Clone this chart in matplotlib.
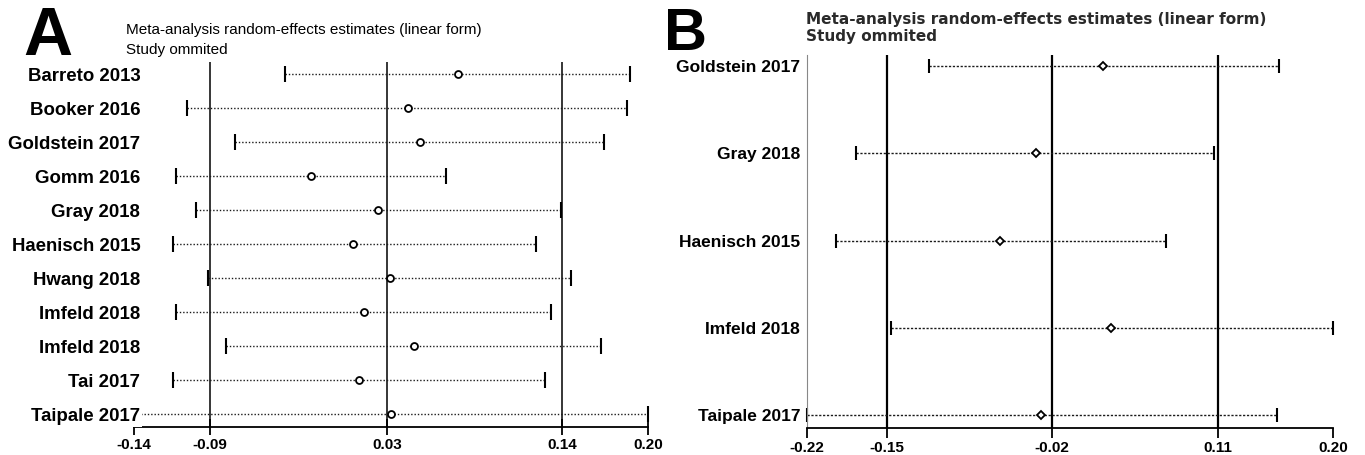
import numpy as np
import matplotlib
matplotlib.use('Agg')
import matplotlib.pyplot as plt

plt.rcParams['font.family'] = ['Liberation Sans', 'DejaVu Sans']

# panel A - leave-one-out estimates
studies_a = ['Barreto 2013', 'Booker 2016', 'Goldstein 2017', 'Gomm 2016', 'Gray 2018',
             'Haenisch 2015', 'Hwang 2018', 'Imfeld 2018', 'Imfeld 2018', 'Tai 2017', 'Taipale 2017']
est_a = [0.074, 0.041, 0.049, -0.023, 0.021, 0.005, 0.029, 0.012, 0.045, 0.009, 0.030]
lo_a = [-0.040, -0.105, -0.073, -0.112, -0.099, -0.114, -0.091, -0.112, -0.079, -0.114, -0.140]
hi_a = [0.188, 0.186, 0.171, 0.066, 0.142, 0.126, 0.149, 0.136, 0.169, 0.132, 0.200]
ref_a = [-0.0896, 0.0271, 0.1432]
ticks_a = [-0.14, -0.0896, 0.0271, 0.1432, 0.20]
ticklabels_a = ['-0.14', '-0.09', '0.03', '0.14', '0.20']

# panel B
studies_b = ['Goldstein 2017', 'Gray 2018', 'Haenisch 2015', 'Imfeld 2018', 'Taipale 2017']
est_b = [0.0165, -0.0373, -0.0662, 0.0224, -0.0335]
lo_b = [-0.1224, -0.1807, -0.1969, -0.1527, -0.220]
hi_b = [0.1569, 0.1048, 0.0665, 0.200, 0.1548]
ref_b = [-0.1564, -0.0247, 0.1077]
ticks_b = [-0.22, -0.1564, -0.0247, 0.1077, 0.20]
ticklabels_b = ['-0.22', '-0.15', '-0.02', '0.11', '0.20']

title1 = 'Meta-analysis random-effects estimates (linear form)'
title2 = 'Study ommited'

W, H = 1365, 455
fig = plt.figure(figsize=(W / 100, H / 100), dpi=100, facecolor='w')


def px_axes(left, top, right, bottom):
    return fig.add_axes([left / W, (H - bottom) / H, (right - left) / W, (bottom - top) / H])


def draw_panel(ax, studies, est, lo, hi, refs, ticks, ticklabels, ylim,
               marker, ms, ref_lw, dots, cap, lab_size, lab_pad, tick_dir, tick_len):
    y = np.arange(1, len(studies) + 1)
    for r in refs:
        ax.axvline(r, color='black', lw=ref_lw, zorder=1)
    for yi, l, h in zip(y, lo, hi):
        ax.plot([l, h], [yi, yi], color='#1a1a1a', lw=1.0, ls=dots, zorder=1.2)
    ax.plot(lo, y, ls='none', marker='|', ms=cap, mew=1.5, color='black', clip_on=False, zorder=1.3)
    ax.plot(hi, y, ls='none', marker='|', ms=cap, mew=1.5, color='black', clip_on=False, zorder=1.3)
    ax.plot(est, y, ls='none', marker=marker, ms=ms, mfc='white', mec='black', mew=1.3,
            clip_on=False, zorder=4)
    ax.set_axisbelow(False)
    ax.set_xlim(ticks[0], ticks[-1])
    ax.set_ylim(ylim)
    ax.set_yticks(y)
    ax.set_yticklabels(studies, fontweight='bold', fontsize=lab_size)
    ax.tick_params(axis='y', length=0, pad=lab_pad)
    ax.set_xticks(ticks)
    ax.set_xticklabels(ticklabels, fontweight='bold', fontsize=11)
    ax.tick_params(axis='x', direction=tick_dir, length=tick_len, width=1.3, pad=2)
    for s in ['top', 'right']:
        ax.spines[s].set_visible(False)
    ax.spines['bottom'].set_linewidth(1.3)


axA = px_axes(134, 62, 648.3, 427)
draw_panel(axA, studies_a, est_a, lo_a, hi_a, ref_a, ticks_a, ticklabels_a,
           (11.373, 0.647), 'o', 5, 1.1, (0, (1, 1.4)), 11, 13.4, -4.5, 'inout', 12)
axA.spines['left'].set_visible(False)
# last label sits over the start of its CI line, hide what runs under it
axA.get_yticklabels()[-1].set_bbox(dict(facecolor='white', edgecolor='none', pad=1.5))

axB = px_axes(807, 55, 1333.3, 428.3)
draw_panel(axB, studies_b, est_b, lo_b, hi_b, ref_b, ticks_b, ticklabels_b,
           (5.152, 0.874), 'D', 4, 1.6, (0, (1.6, 1.2)), 10, 12.5, 5, 'out', 7)
axB.spines['left'].set_linewidth(0.8)
axB.spines['left'].set_color('#888888')

# panel letters and titles
fig.text(23 / W, (H - 55) / H, 'A', fontsize=49, fontweight='bold', va='baseline')
fig.text(664 / W, (H - 50) / H, 'B', fontsize=43, fontweight='bold', va='baseline')

fig.text(126 / W, (H - 34) / H, title1, fontsize=11, va='baseline')
fig.text(126 / W, (H - 54) / H, title2, fontsize=11, va='baseline')
fig.text(806 / W, (H - 24) / H, title1, fontsize=11, fontweight='bold', color='#2a2a2a',
         va='baseline', family='DejaVu Sans')
fig.text(806 / W, (H - 41) / H, title2, fontsize=11, fontweight='bold', color='#2a2a2a',
         va='baseline', family='DejaVu Sans')

fig.savefig('out.png', dpi=100, facecolor='w')
